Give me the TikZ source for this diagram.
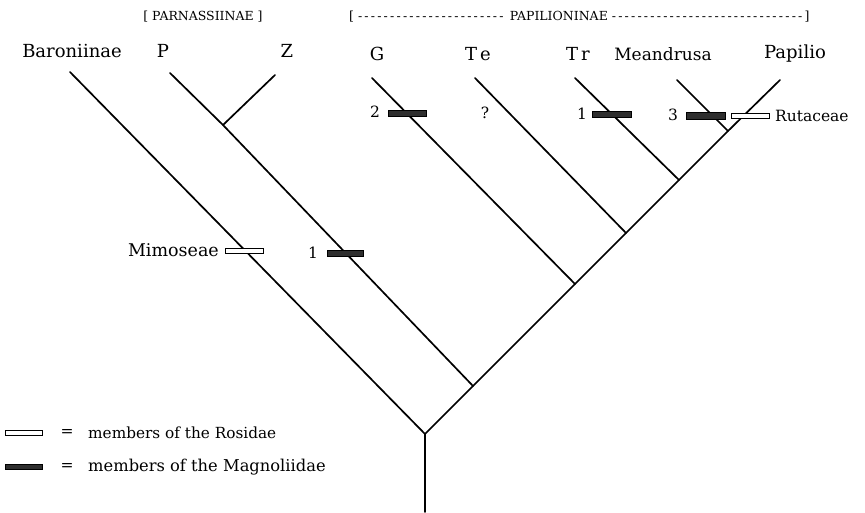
\documentclass[tikz,border=0pt]{standalone}
\usepackage{fontspec}
\setmainfont{DejaVu Serif}
\newcommand\hyphrun[1]{\foreach \k in {1,...,#1}{-\kern2.2pt}}
\begin{document}
\begin{tikzpicture}[x=1pt,y=-1pt,
  branch/.style={line width=1.7pt,line cap=round},
  taxon/.style={font=\fontsize{18}{20}\selectfont,inner sep=0pt},
  note/.style={font=\fontsize{15.5}{17}\selectfont,inner sep=0pt},
  legendtxt/.style={font=\fontsize{15.3}{17}\selectfont,inner sep=0pt,anchor=west},
  header/.style={font=\fontsize{12.5}{15}\selectfont,inner sep=0pt},
  magbar/.style={draw=black,line width=0.8pt,fill=black!82,inner sep=0pt,minimum width=38pt,minimum height=6pt},
  rosbar/.style={draw=black,line width=1pt,fill=white,inner sep=0pt,minimum width=38pt,minimum height=5pt}]
\useasboundingbox (0,0) rectangle (865,512);

% subfamily headers
\node[header] (parn) at (203,17) {[ PARNASSIINAE ]};
\node[header,anchor=west] (papil) at (349,17) {[ \hyphrun{23} PAPILIONINAE \hyphrun{30}]};

% terminal taxa
\node[taxon] (Lbar) at (72,51) {Baroniinae};
\node[taxon] (Lp) at (163,51) {P};
\node[taxon] (Lz) at (287,51) {Z};
\node[taxon] (Lg) at (377,54) {G};
\node[taxon] (Lte) at (478,54) {T\kern3pt e};
\node[taxon] (Ltr) at (578,54) {T\kern3pt r};
\node[taxon,font=\fontsize{17}{20}\selectfont] (Lme) at (663,54) {Meandrusa};
\node[taxon] (Lpa) at (795,54) {Papilio};

% tree points
\coordinate (root) at (425,434);
\coordinate (base) at (425,512);
\coordinate (tB) at (70,72);
\coordinate (jP) at (473,386);
\coordinate (tP) at (170,73);
\coordinate (jZ) at (223,125);
\coordinate (tZ) at (275,75);
\coordinate (jG) at (575,284);
\coordinate (tG) at (372,78);
\coordinate (jTe) at (626,233);
\coordinate (tTe) at (475,78);
\coordinate (jTr) at (679,180);
\coordinate (tTr) at (575,78);
\coordinate (jM) at (728,131);
\coordinate (tM) at (677,80);
\coordinate (tPa) at (780,80);

% branches
\draw[branch] (base) -- (root);
\draw[branch] (root) -- (tB);
\draw[branch] (root) -- (jP) -- (jG) -- (jTe) -- (jTr) -- (jM) -- (tPa);
\draw[branch] (jP) -- (jZ) -- (tP);
\draw[branch] (jZ) -- (tZ);
\draw[branch] (jG) -- (tG);
\draw[branch] (jTe) -- (tTe);
\draw[branch] (jTr) -- (tTr);
\draw[branch] (jM) -- (tM);

% host plant bars
\node[rosbar] (bMim) at (244,251) {};
\node[note,anchor=east,font=\fontsize{17.5}{19}\selectfont] (Lmim) at (219,250) {Mimoseae};
\node[magbar,minimum width=36pt] (bP) at (345,253) {};
\node[note] (nP) at (313,253) {1};
\node[magbar] (bG) at (407,113) {};
\node[note] (nG) at (375,112) {2};
\node[note] (nTe) at (485,113) {?};
\node[magbar,minimum width=39pt] (bTr) at (612,114) {};
\node[note] (nTr) at (582,114) {1};
\node[magbar,minimum width=39pt,minimum height=7pt] (bM) at (706,115.5) {};
\node[note] (nM) at (673,115) {3};
\node[rosbar] (bRu) at (750,115.5) {};
\node[note,anchor=west] (Lru) at (775,116) {Rutaceae};

% legend
\node[rosbar,minimum width=37pt] (kRos) at (23.5,433) {};
\node[note] (eqRos) at (67,433) {=};
\node[legendtxt] (tRos) at (88,433) {members of the Rosidae};
\node[magbar,minimum width=37pt,minimum height=5pt] (kMag) at (23.5,467) {};
\node[note] (eqMag) at (67,467) {=};
\node[legendtxt,font=\fontsize{16.3}{18}\selectfont] (tMag) at (88,467) {members of the Magnoliidae};
\end{tikzpicture}
\end{document}
